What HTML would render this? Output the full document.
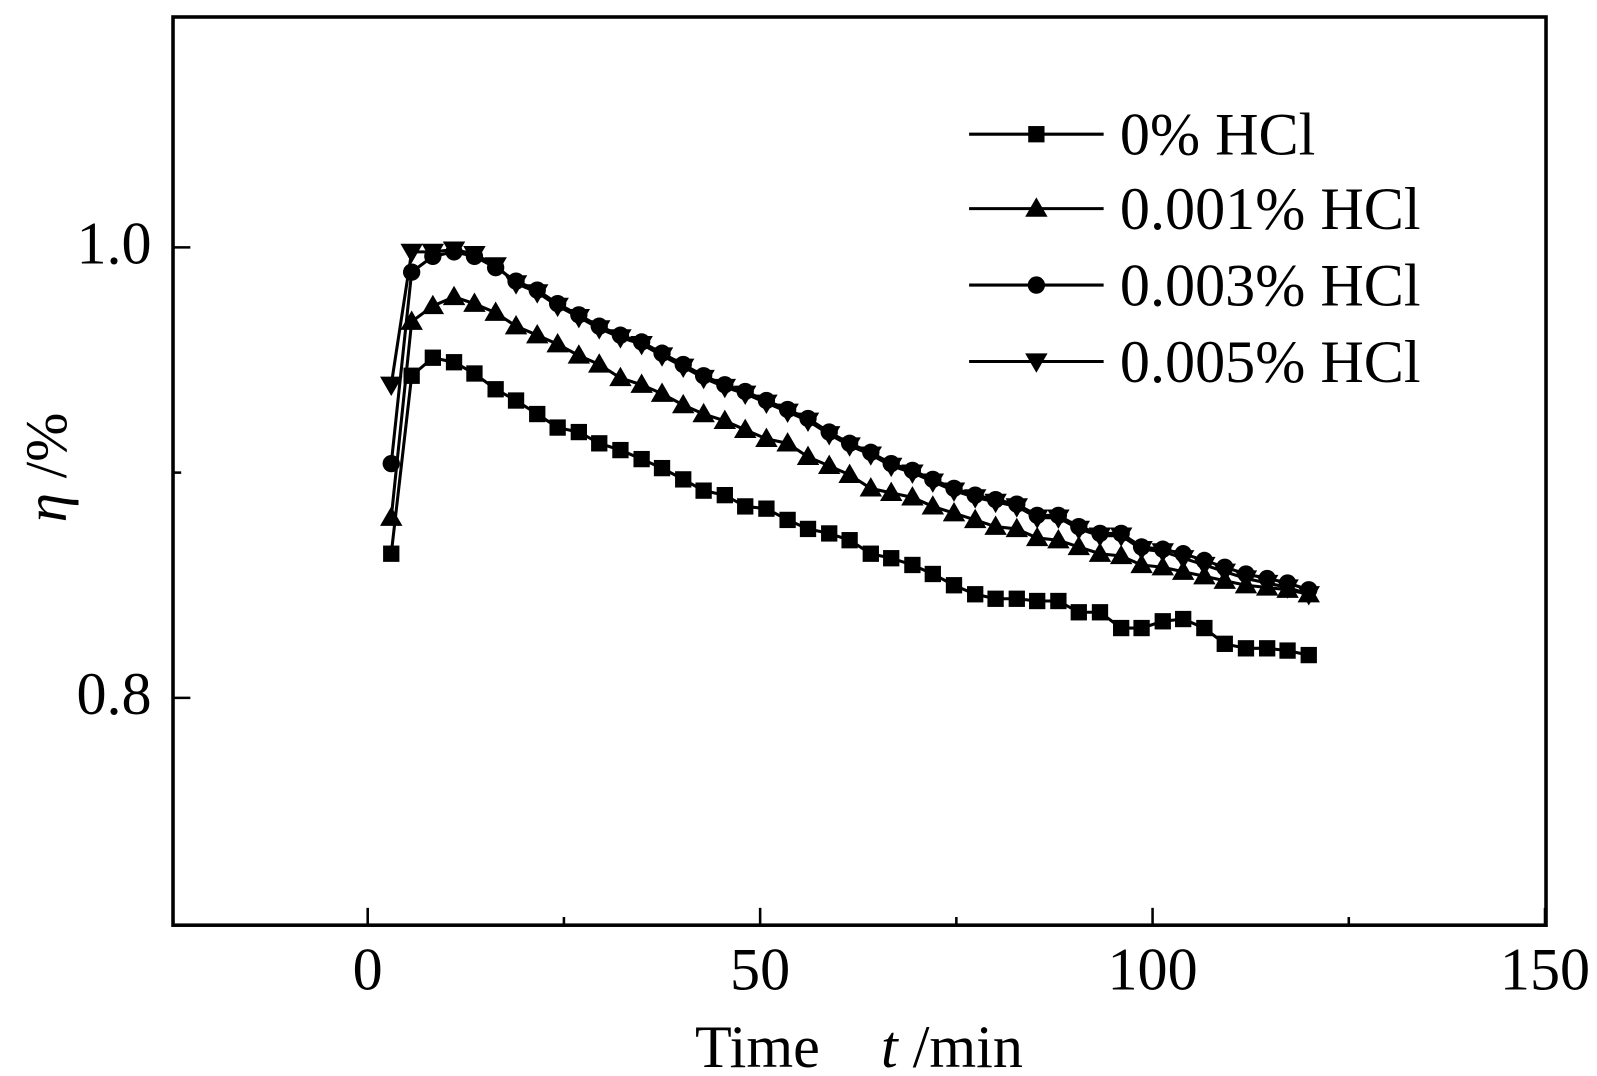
<!DOCTYPE html>
<html><head><meta charset="utf-8"><style>
html,body{margin:0;padding:0;background:#fff;}
svg{display:block;font-family:"Liberation Serif",serif;}
</style></head><body>
<svg id="chart" width="1597" height="1076" viewBox="0 0 1597 1076" xmlns="http://www.w3.org/2000/svg">
<g transform="translate(-2.3,1.7) scale(1.0193)">
<rect x="172" y="15" width="1347" height="891" fill="none" stroke="#000" stroke-width="3.5"/>
<g id="axes"></g>
<g id="series"></g>
<g id="legend"></g>
<text x="845" y="1045" font-size="59" text-anchor="middle">Time<tspan dx="60" font-style="italic">t</tspan><tspan> /min</tspan></text>
<text transform="translate(67,457) rotate(-90)" font-size="58" text-anchor="middle"><tspan font-style="italic">η</tspan> /%</text>
</g>
</svg>
<script>
const times = [3.0,5.6,8.3,11.0,13.6,16.3,18.9,21.6,24.2,26.9,29.5,32.2,34.9,37.5,40.2,42.8,45.5,48.1,50.8,53.5,56.1,58.8,61.4,64.1,66.7,69.4,72.0,74.7,77.4,80.0,82.7,85.3,88.0,90.6,93.3,96.0,98.6,101.3,103.9,106.6,109.2,111.9,114.6,117.2,119.9];
const hcl0 = [0.864,0.943,0.951,0.949,0.944,0.937,0.932,0.926,0.920,0.918,0.913,0.910,0.906,0.902,0.897,0.892,0.890,0.885,0.884,0.879,0.875,0.873,0.870,0.864,0.862,0.859,0.855,0.850,0.846,0.844,0.844,0.843,0.843,0.838,0.838,0.831,0.831,0.834,0.835,0.831,0.824,0.822,0.822,0.821,0.819];
const hcl001 = [0.880,0.967,0.974,0.978,0.975,0.971,0.965,0.961,0.957,0.952,0.948,0.942,0.939,0.935,0.930,0.926,0.923,0.919,0.915,0.913,0.907,0.903,0.899,0.893,0.891,0.889,0.885,0.882,0.879,0.876,0.875,0.871,0.870,0.867,0.864,0.863,0.859,0.858,0.856,0.854,0.852,0.850,0.849,0.848,0.846];
const hcl003 = [0.904,0.989,0.996,0.998,0.996,0.991,0.985,0.981,0.975,0.970,0.965,0.961,0.958,0.953,0.948,0.943,0.939,0.936,0.932,0.928,0.924,0.918,0.913,0.909,0.904,0.901,0.897,0.893,0.890,0.888,0.886,0.881,0.881,0.876,0.873,0.873,0.867,0.866,0.864,0.861,0.858,0.855,0.853,0.851,0.848];
const hcl005 = [0.939,0.998,0.998,0.999,0.997,0.992,0.984,0.980,0.974,0.969,0.964,0.960,0.957,0.952,0.947,0.942,0.938,0.935,0.931,0.927,0.923,0.917,0.912,0.908,0.903,0.900,0.896,0.892,0.889,0.887,0.885,0.880,0.880,0.875,0.872,0.872,0.866,0.865,0.862,0.859,0.856,0.853,0.851,0.849,0.846];
const xTicks = [0,50,100,150];
const xMinor = [25,75,125];
const yTicks = [0.8,1.0];
const yMinor = [0.9];
const yTickLabels = ["0.8","1.0"];
const seriesNames = ["0% HCl","0.001% HCl","0.003% HCl","0.005% HCl"];

const NS="http://www.w3.org/2000/svg";
function xs(t){return 363+(t-0)*7.7;}
function ys(v){return 241+(1.0-v)*2210;}
function mk(tag,attrs,parent){const e=document.createElementNS(NS,tag);for(const k in attrs)e.setAttribute(k,attrs[k]);parent.appendChild(e);return e;}
const axes=document.getElementById('axes');
xTicks.forEach(t=>{
  const l=mk('line',{x1:xs(t),x2:xs(t),y1:906,y2:889,stroke:'#000','stroke-width':2.5},axes);
  
  
  const tx=mk('text',{x:xs(t),y:969,'font-size':59,'text-anchor':'middle'},axes);
  tx.textContent=String(t);
  
  
});
xMinor.forEach(t=>{
  const l=mk('line',{x1:xs(t),x2:xs(t),y1:906,y2:898,stroke:'#000','stroke-width':2.5},axes);
  
  
});
yTicks.forEach((v,i)=>{
  const l=mk('line',{x1:172,x2:189,y1:ys(v),y2:ys(v),stroke:'#000','stroke-width':2.5},axes);
  
  
  const tx=mk('text',{x:151,y:ys(v)+16,'font-size':59,'text-anchor':'end'},axes);
  tx.textContent=yTickLabels[i];
  
  
});
yMinor.forEach(v=>{
  const l=mk('line',{x1:172,x2:180,y1:ys(v),y2:ys(v),stroke:'#000','stroke-width':2.5},axes);
  
  
});
function marker(type,x,y,parent){
  let e;
  if(type==='square') e=mk('rect',{x:x-8,y:y-8,width:16,height:16,fill:'#000'},parent);
  else if(type==='up') e=mk('polygon',{points:`${x},${y-11} ${x+11},${y+8} ${x-11},${y+8}`,fill:'#000'},parent);
  else if(type==='circle') e=mk('circle',{cx:x,cy:y,r:8.5,fill:'#000'},parent);
  else e=mk('polygon',{points:`${x},${y+11} ${x+11},${y-8} ${x-11},${y-8}`,fill:'#000'},parent);
  return e;
}
const ser=document.getElementById('series');
const allSeries=[hcl0,hcl001,hcl003,hcl005];
const types=['square','up','circle','down'];
const snames=['series-0-hcl','series-0001-hcl','series-0003-hcl','series-0005-hcl'];
allSeries.forEach((vals,si)=>{
  const g=mk('g',{},ser);
  
  
  const pts=vals.map((v,i)=>xs(times[i])+','+ys(v)).join(' ');
  const pl=mk('polyline',{points:pts,fill:'none',stroke:'#000','stroke-width':3},g);
  
  
  vals.forEach((v,i)=>{
    const m=marker(types[si],xs(times[i]),ys(v),g);
    
    
  });
});
const leg=document.getElementById('legend');
const legY=[130,203,278,353];
seriesNames.forEach((n,i)=>{
  const g=mk('g',{},leg);
  
  
  mk('line',{x1:953,x2:1085,y1:legY[i],y2:legY[i],stroke:'#000','stroke-width':3},g);
  marker(types[i],1019,legY[i],g);
  const t=mk('text',{x:1101,y:legY[i]+20,'font-size':59},g);
  t.textContent=n;
});
</script>
</body></html>
